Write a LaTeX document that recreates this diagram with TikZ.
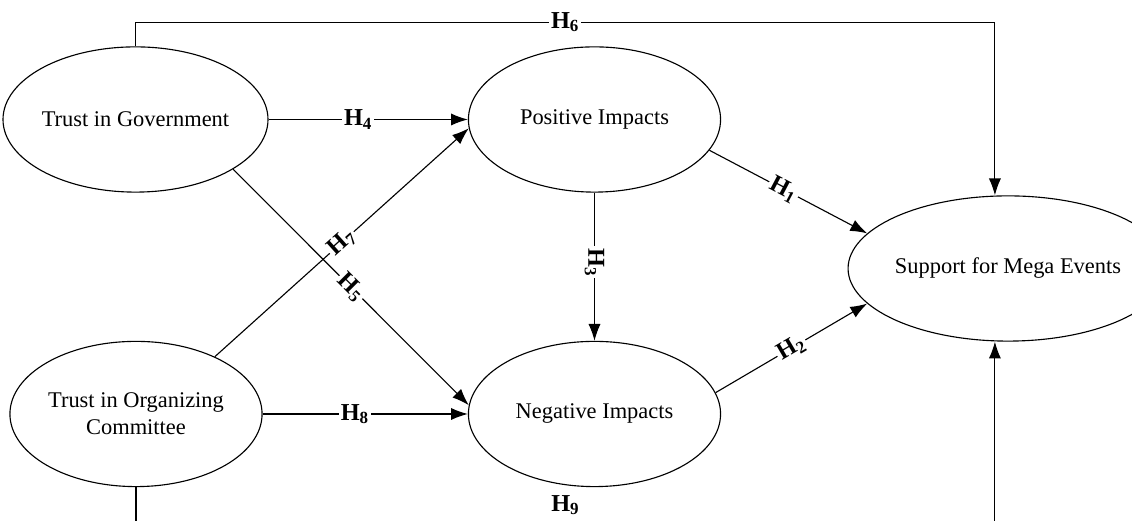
\documentclass[tikz,border=0pt]{standalone}
\usepackage{fontspec}
\setmainfont{Liberation Serif}
\usepackage{tikz}
\usetikzlibrary{shapes.geometric, arrows.meta}
\newcommand{\hlab}[1]{\textbf{H\textsubscript{#1}}}

\begin{document}
\begin{tikzpicture}[x = 0.0188cm, y = 0.0188cm,
    latent/.style = {draw, ellipse, line width = 0.6pt, minimum width = 4.74cm, minimum height = 2.73cm, inner sep = 0pt, align = center, font = \fontsize{12}{14.5}\selectfont},
    arr/.style = {line width = 0.6pt, -{Latex[length = 9pt, width = 6.5pt]}},
    hl/.style = {fill = white, inner sep = 1pt, font = \fontsize{13}{15}\selectfont}]
    % Riquadro
    \useasboundingbox (0,0) rectangle (1132,521);
    % Costrutti
    \node[latent] (tg) at (135.5,401.5) {Trust in Government};
    \node[latent] (pi) at (594.5,401.5) {Positive Impacts};
    \node[latent] (sm) at (1008,252.5) {Support for Mega Events};
    \node[latent] (to) at (136,107) {Trust in Organizing\\Committee};
    \node[latent] (ni) at (594.5,107) {Negative Impacts};
    % Ipotesi
    \draw[arr] (tg.east) -- (pi.west) node[hl, pos = 0.45]{\hlab{4}};
    \draw[arr] (to.east) -- (ni.west) node[hl, pos = 0.45]{\hlab{8}};
    \draw[arr] (tg.-27) -- (ni.176) node[hl, pos = 0.5, sloped]{\hlab{5}};
    \draw[arr] (to.36) -- (pi.184) node[hl, pos = 0.5, sloped]{\hlab{7}};
    \draw[arr] (pi.south) -- (ni.north) node[hl, pos = 0.47, rotate = -90]{\hlab{3}};
    \draw[arr] (pi.-15) -- (sm.166) node[hl, pos = 0.47, sloped]{\hlab{1}};
    \draw[arr] (ni.10) -- (sm.194) node[hl, pos = 0.5, sloped]{\hlab{2}};
    \draw[arr] (tg.north) -- ++(0,24) -| ([xshift = -7]sm.north) node[hl, pos = 0.25]{\hlab{6}};
    \draw[arr] (to.south) -- ++(0,-46) -| ([xshift = -7]sm.south) node[hl, pos = 0.25, above = 0.3cm]{\hlab{9}};
\end{tikzpicture}
\end{document}
